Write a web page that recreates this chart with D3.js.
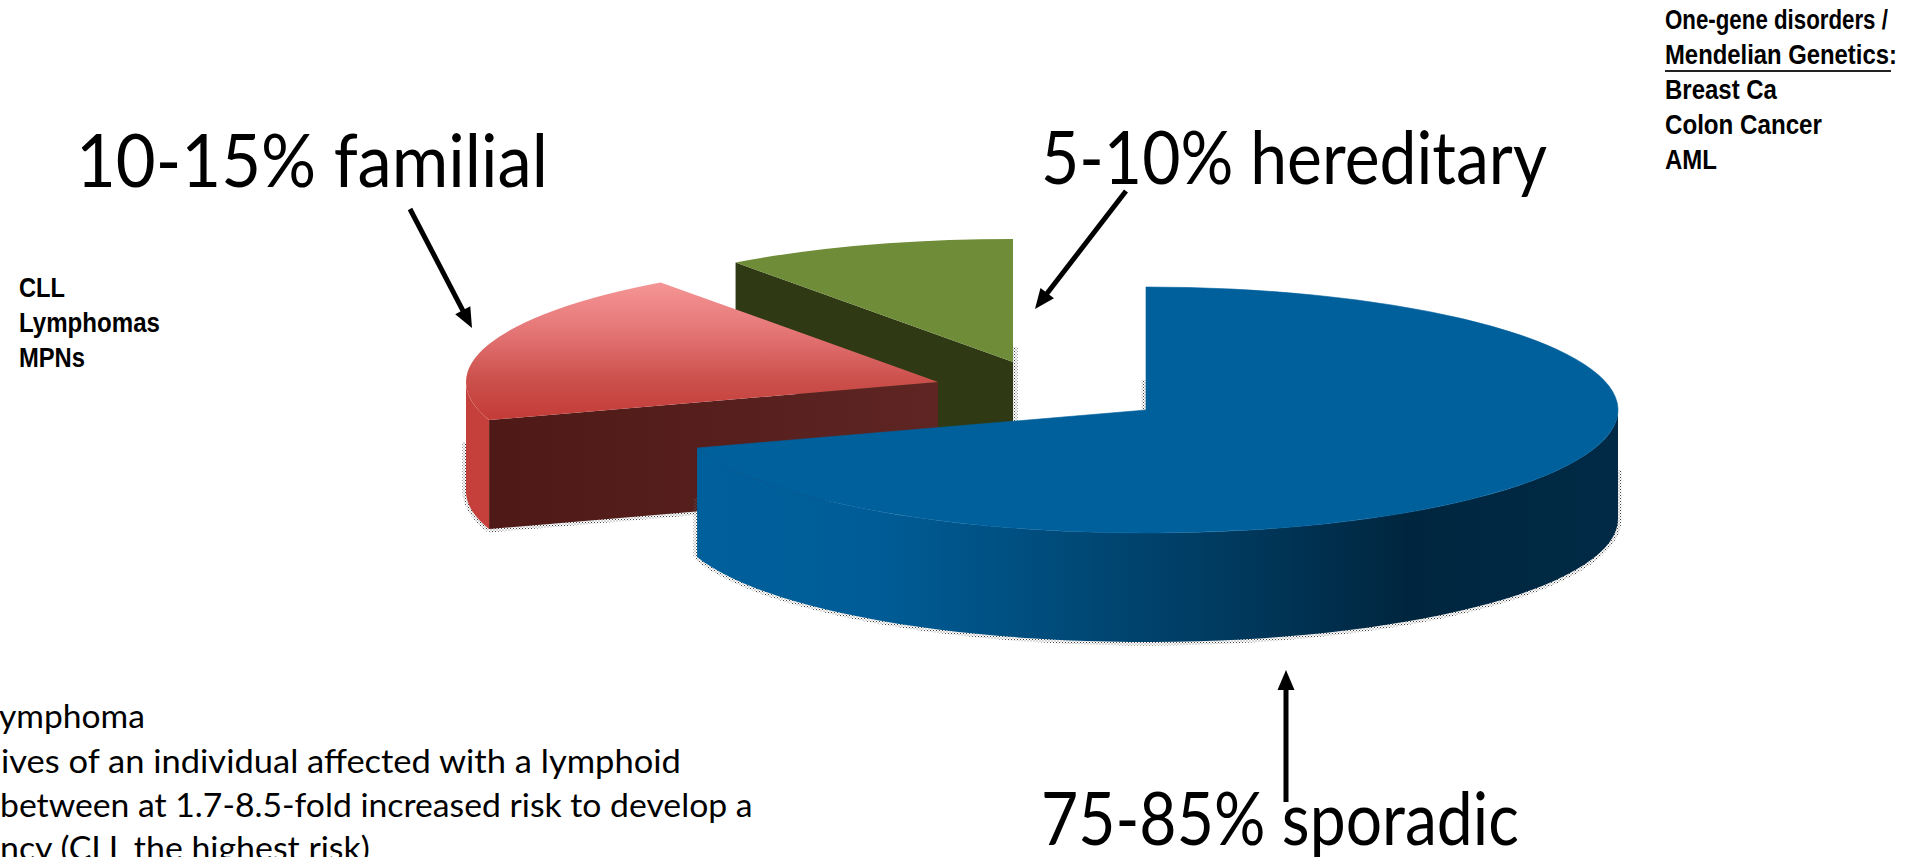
<!DOCTYPE html>
<html>
<head>
<meta charset="utf-8">
<script src="https://cdn.jsdelivr.net/npm/d3@7/dist/d3.min.js"></script>
<style>
html,body{margin:0;padding:0;background:#fff;overflow:hidden}
svg{display:block}
</style>
</head>
<body>
<svg id="chart" width="1921" height="857" viewBox="0 0 1921 857"></svg>
<script>
const categories = ["sporadic", "familial", "hereditary"];
const sliceValues = [70, 20, 10];
const topColors = ["#00609c", "url(#redTop)", "#6f8c38"];
const mainLabels = ["10-15% familial", "5-10% hereditary", "75-85% sporadic"];
const rightNotes = ["One-gene disorders /", "Mendelian Genetics:", "Breast Ca", "Colon Cancer", "AML"];
const leftNotes = ["CLL", "Lymphomas", "MPNs"];
const bottomNotes = ["ymphoma", "ives of an individual affected with a lymphoid", "between at 1.7-8.5-fold increased risk to develop a", "ncy (CLL the highest risk)"];

const svg = d3.select("#chart");
const defs = svg.append("defs");
const rx = 472, ry = 123, depth = 109;
const centers = {sporadic:[1146,410], familial:[938,382], hereditary:[1013,362]};

function gradient(id, units, x1, y1, x2, y2, stops){
  const g = defs.append("linearGradient").attr("id",id).attr("gradientUnits",units)
    .attr("x1",x1).attr("y1",y1).attr("x2",x2).attr("y2",y2);
  stops.forEach(s=>g.append("stop").attr("offset",s[0]).attr("stop-color",s[1]));
}
gradient("redTop","objectBoundingBox",0,0,0,1,[[0,"#f59595"],[0.35,"#e57676"],[0.72,"#cb4f4b"],[1,"#c43b37"]]);
gradient("redCut","userSpaceOnUse",488,0,938,0,[[0,"#4e1916"],[1,"#5e2523"]]);
gradient("blueSide","userSpaceOnUse",696,0,1618,0,[[0,"#00609c"],[0.2,"#005c96"],[0.35,"#004f80"],[0.575,"#003a5f"],[0.77,"#00263f"],[1,"#002a46"]]);

const dots = defs.append("pattern").attr("id","dots").attr("width",3).attr("height",3).attr("patternUnits","userSpaceOnUse");
dots.append("rect").attr("width",1).attr("height",1).attr("fill","#444");
dots.append("rect").attr("x",1.5).attr("y",1.5).attr("width",1).attr("height",1).attr("fill","#666");

const arcs = d3.pie().sort(null).startAngle(0).endAngle(2*Math.PI)(sliceValues);
const slices = categories.map((c,i)=>({name:c, start:arcs[i].startAngle, end:arcs[i].endAngle, fill:topColors[i], center:centers[c]}));
const byName = Object.fromEntries(slices.map(s=>[s.name,s]));

const px = (c,a)=>c[0]+rx*Math.sin(a);
const py = (c,a,d)=>c[1]-ry*Math.cos(a)+(d||0);
const arcPts = (c,a0,a1,d)=>d3.range(0,61).map(i=>{const a=a0+(a1-a0)*i/60; return [px(c,a),py(c,a,d)];});
const line = d3.line();
const g = svg.append("g");

function topFace(s,seal){
  const arc = d3.arc().innerRadius(0).outerRadius(rx).startAngle(s.start).endAngle(s.end);
  const p = g.append("path").attr("d",arc()).attr("fill",s.fill)
    .attr("transform",`translate(${s.center[0]},${s.center[1]}) scale(1,${ry/rx})`);
  if(seal) p.attr("stroke",s.fill).attr("stroke-width",0.6).attr("vector-effect","non-scaling-stroke");
}
function outerWall(s,a0,a1,fill){
  const c = s.center;
  const pts = arcPts(c,a0,a1,0).concat(arcPts(c,a1,a0,depth));
  g.append("path").attr("d",line(pts)+"Z").attr("fill",fill);
}
function fuzz(pts){
  g.append("path").attr("d",line(pts)).attr("fill","none").attr("stroke","url(#dots)").attr("stroke-width",7);
}
function cutFace(s,a,fill){
  const c = s.center, x=px(c,a), y=py(c,a);
  g.append("path").attr("d",line([c,[x,y],[x,y+depth],[c[0],c[1]+depth]])+"Z").attr("fill",fill);
}

// hereditary wedge (behind)
const green = byName.hereditary;
fuzz([[green.center[0]+1,green.center[1]-15],[green.center[0]+1,green.center[1]+depth]]);
cutFace(green,green.start,"#2f3a14");
topFace(green);

// familial wedge
const red = byName.familial;
fuzz(arcPts(red.center,red.start,1.5*Math.PI,depth).concat([[px(red.center,1.5*Math.PI),py(red.center,1.5*Math.PI)+60]]));
fuzz([[px(red.center,red.start),py(red.center,red.start,depth)],[red.center[0],red.center[1]+depth]]);
outerWall(red,red.start,1.5*Math.PI,"#c5403b");
cutFace(red,red.start,"url(#redCut)");
topFace(red);

// sporadic wedge (front)
const blue = byName.sporadic;
fuzz(arcPts(blue.center,blue.end,Math.PI/2,depth).concat([[px(blue.center,Math.PI/2),blue.center[1]+60]]));
fuzz([[px(blue.center,blue.end),py(blue.center,blue.end)+50],[px(blue.center,blue.end),py(blue.center,blue.end,depth)]]);
fuzz([[blue.center[0]-1,blue.center[1]-30],[blue.center[0]-1,blue.center[1]]]);
outerWall(blue,Math.PI/2,blue.end,"url(#blueSide)");
topFace(blue,true);

// arrows
function arrow(x0,y0,x1,y1){
  const L=Math.hypot(x1-x0,y1-y0), ux=(x1-x0)/L, uy=(y1-y0)/L, hl=20, hw=8.5;
  const bx=x1-ux*hl, by=y1-uy*hl;
  g.append("line").attr("x1",x0).attr("y1",y0).attr("x2",bx+ux*2).attr("y2",by+uy*2).attr("stroke","#000").attr("stroke-width",5);
  g.append("path").attr("d",line([[x1,y1],[bx-uy*hw,by+ux*hw],[bx+uy*hw,by-ux*hw]])+"Z").attr("fill","#000");
}
arrow(410,209,472,328);
arrow(1126,191,1035,309);
arrow(1286,802,1286,670);

// text is fitted to its measured width by a horizontal scale
function text(str,x,y,size,len,bold,family){
  const t = svg.append("text").text(str).attr("font-size",size)
    .attr("font-family",family).attr("font-weight",bold?700:400).attr("fill","#000");
  const natural = t.node().getComputedTextLength();
  t.attr("transform",`translate(${x},${y}) scale(${len/natural},1)`);
  return t;
}
const body = "Lato, Carlito, sans-serif", head = "'Liberation Sans Narrow', 'Liberation Sans', Arial, sans-serif";
text(mainLabels[0],76,187,74,472,false,body);
text(mainLabels[1],1041,184,74,506,false,body);
text(mainLabels[2],1041,845,74,478,false,body);

const rightY=[29,64,99,134,169], rightLen=[223,232,112,157,52];
rightNotes.forEach((t,i)=>text(t,1665,rightY[i],28,rightLen[i],true,head));
g.append("line").attr("x1",1665).attr("x2",1891).attr("y1",71).attr("y2",71).attr("stroke","#222").attr("stroke-width",2);

const leftY=[297,332,367], leftLen=[46,141,66];
leftNotes.forEach((t,i)=>text(t,19,leftY[i],28,leftLen[i],true,head));

const botX=[-1,1,0,0], botY=[728,773,817,860], botLen=[146,680,753,370];
bottomNotes.forEach((t,i)=>text(t,botX[i],botY[i],33,botLen[i],false,body));
</script>
</body>
</html>
